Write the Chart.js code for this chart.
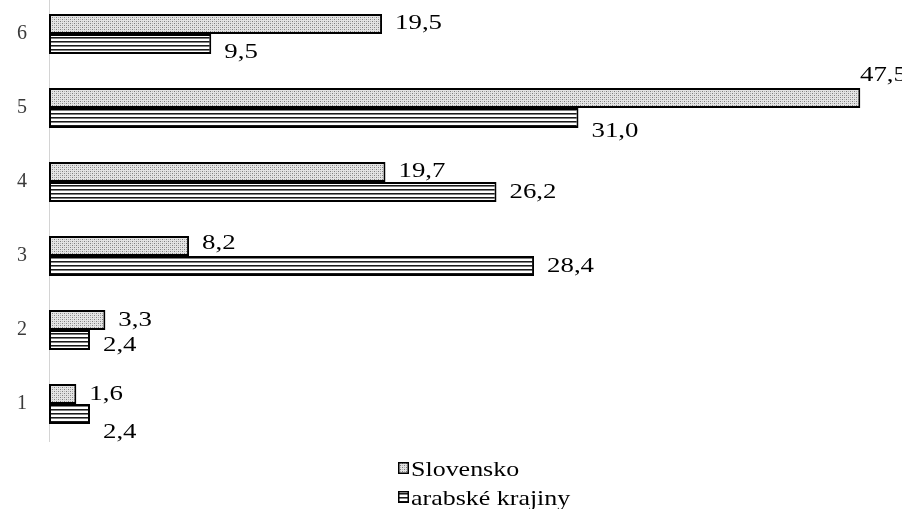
<!DOCTYPE html>
<html>
<head>
<meta charset="utf-8">
<style>
  html, body { margin: 0; padding: 0; background: #fff; width: 902px; height: 509px; overflow: hidden; position: relative; }
  #wrap { position: absolute; left: 0; top: -3px; width: 903px; height: 512px; }
</style>
<script src="https://cdn.jsdelivr.net/npm/chart.js@4.4.1/dist/chart.umd.min.js"></script>
</head>
<body>
<div id="wrap"><canvas id="c"></canvas></div>
<script>
// Categories top to bottom, and the two series
const categories = ['6', '5', '4', '3', '2', '1'];
const slovensko = [19.5, 47.5, 19.7, 8.2, 3.3, 1.6];
const arabske = [9.5, 31.0, 26.2, 28.4, 2.4, 2.4];
const seriesNames = ['Slovensko', 'arabské krajiny'];

// Vertical nudges (px) for the value labels, so they do not collide
const labelNudge = [
  [-1, 0, -1, -3, 0, 0],
  [8, 13, 0, 0, 5, 18]
];

const SERIF = '"Liberation Serif", "Times New Roman", serif';
const LABEL_STRETCH = 1.22;
const LEGEND_STRETCH = 1.18;

// Fill patterns: fine dots and horizontal stripes
function dotPattern(ctx) {
  const t = document.createElement('canvas');
  t.width = 4; t.height = 4;
  const g = t.getContext('2d');
  g.fillStyle = '#e4e4e4';
  g.fillRect(0, 0, 4, 4);
  g.fillStyle = '#7e7e7e';
  g.fillRect(0, 0, 1, 1);
  g.fillRect(2, 2, 1, 1);
  g.fillStyle = '#b4b4b4';
  g.fillRect(2, 0, 1, 1);
  g.fillRect(0, 2, 1, 1);
  return ctx.createPattern(t, 'repeat');
}
function stripePattern(ctx) {
  const t = document.createElement('canvas');
  t.width = 4; t.height = 4;
  const g = t.getContext('2d');
  g.fillStyle = '#ffffff';
  g.fillRect(0, 0, 4, 4);
  g.fillStyle = '#1a1a1a';
  g.fillRect(0, 0, 4, 1);
  g.fillStyle = '#808080';
  g.fillRect(0, 1, 4, 1);
  return ctx.createPattern(t, 'repeat');
}

const canvas = document.getElementById('c');
const ctx0 = canvas.getContext('2d');
const fills = [dotPattern(ctx0), stripePattern(ctx0)];

function fmt(v) { return v.toFixed(1).replace('.', ','); }

function stretchedText(ctx, text, x, y, align, k) {
  ctx.save();
  const w = ctx.measureText(text).width * k;
  const left = align === 'right' ? x - w : x;
  ctx.translate(left, y);
  ctx.scale(k, 1);
  ctx.textAlign = 'left';
  ctx.fillText(text, 0, 0);
  ctx.restore();
  return w;
}

// Value labels next to each bar end
const valueLabels = {
  id: 'valueLabels',
  afterDatasetsDraw(chart) {
    const ctx = chart.ctx;
    const area = chart.chartArea;
    ctx.save();
    ctx.font = '22px ' + SERIF;
    ctx.fillStyle = '#000';
    ctx.textBaseline = 'middle';
    chart.data.datasets.forEach((ds, di) => {
      const meta = chart.getDatasetMeta(di);
      meta.data.forEach((bar, i) => {
        const txt = fmt(ds.data[i]);
        const w = ctx.measureText(txt).width * LABEL_STRETCH;
        const x = bar.x + 13;
        if (x + w > area.right + 2) {
          // no room on the right: lift the label above the bar end
          stretchedText(ctx, txt, area.right + 4, bar.y - 23, 'right', LABEL_STRETCH);
        } else {
          stretchedText(ctx, txt, x, bar.y + labelNudge[di][i], 'left', LABEL_STRETCH);
        }
      });
    });
    ctx.restore();
  }
};

// Legend stacked at the bottom, left-aligned rows
const legendRows = {
  id: 'legendRows',
  afterDraw(chart) {
    const ctx = chart.ctx;
    ctx.save();
    ctx.font = '22px ' + SERIF;
    ctx.textBaseline = 'alphabetic';
    const rows = [{ boxY: 465, base: 479 }, { boxY: 494, base: 508 }];
    seriesNames.forEach((name, i) => {
      const r = rows[i];
      ctx.fillStyle = fills[i];
      ctx.fillRect(398, r.boxY, 11, 12);
      ctx.strokeStyle = '#000';
      ctx.lineWidth = 1.5;
      ctx.strokeRect(398.75, r.boxY + 0.75, 9.5, 10.5);
      ctx.fillStyle = '#000';
      stretchedText(ctx, name, 411, r.base, 'left', LEGEND_STRETCH);
    });
    ctx.restore();
  }
};

new Chart(canvas, {
  type: 'bar',
  data: {
    labels: categories,
    datasets: [
      {
        label: seriesNames[0],
        data: slovensko,
        backgroundColor: fills[0],
        borderColor: '#000',
        borderWidth: 2,
        borderSkipped: false
      },
      {
        label: seriesNames[1],
        data: arabske,
        backgroundColor: fills[1],
        borderColor: '#000',
        borderWidth: 2,
        borderSkipped: false
      }
    ]
  },
  options: {
    indexAxis: 'y',
    responsive: true,
    maintainAspectRatio: false,
    animation: false,
    events: [],
    layout: { padding: { top: 0, right: 0, bottom: 68, left: 0 } },
    datasets: { bar: { barPercentage: 1, categoryPercentage: 0.54 } },
    scales: {
      x: { display: false, min: 0, max: 50 },
      y: {
        afterFit(scale) {
          scale.width = 49;
          scale.paddingTop = 0;
          scale.paddingBottom = 0;
        },
        grid: { display: false, drawTicks: false },
        border: { display: true, color: '#d4d4d4', width: 1 },
        ticks: {
          padding: 22,
          color: '#3a3a3a',
          font: { family: SERIF, size: 20 }
        }
      }
    },
    plugins: {
      legend: { display: false },
      tooltip: { enabled: false }
    }
  },
  plugins: [valueLabels, legendRows]
});
</script>
</body>
</html>
